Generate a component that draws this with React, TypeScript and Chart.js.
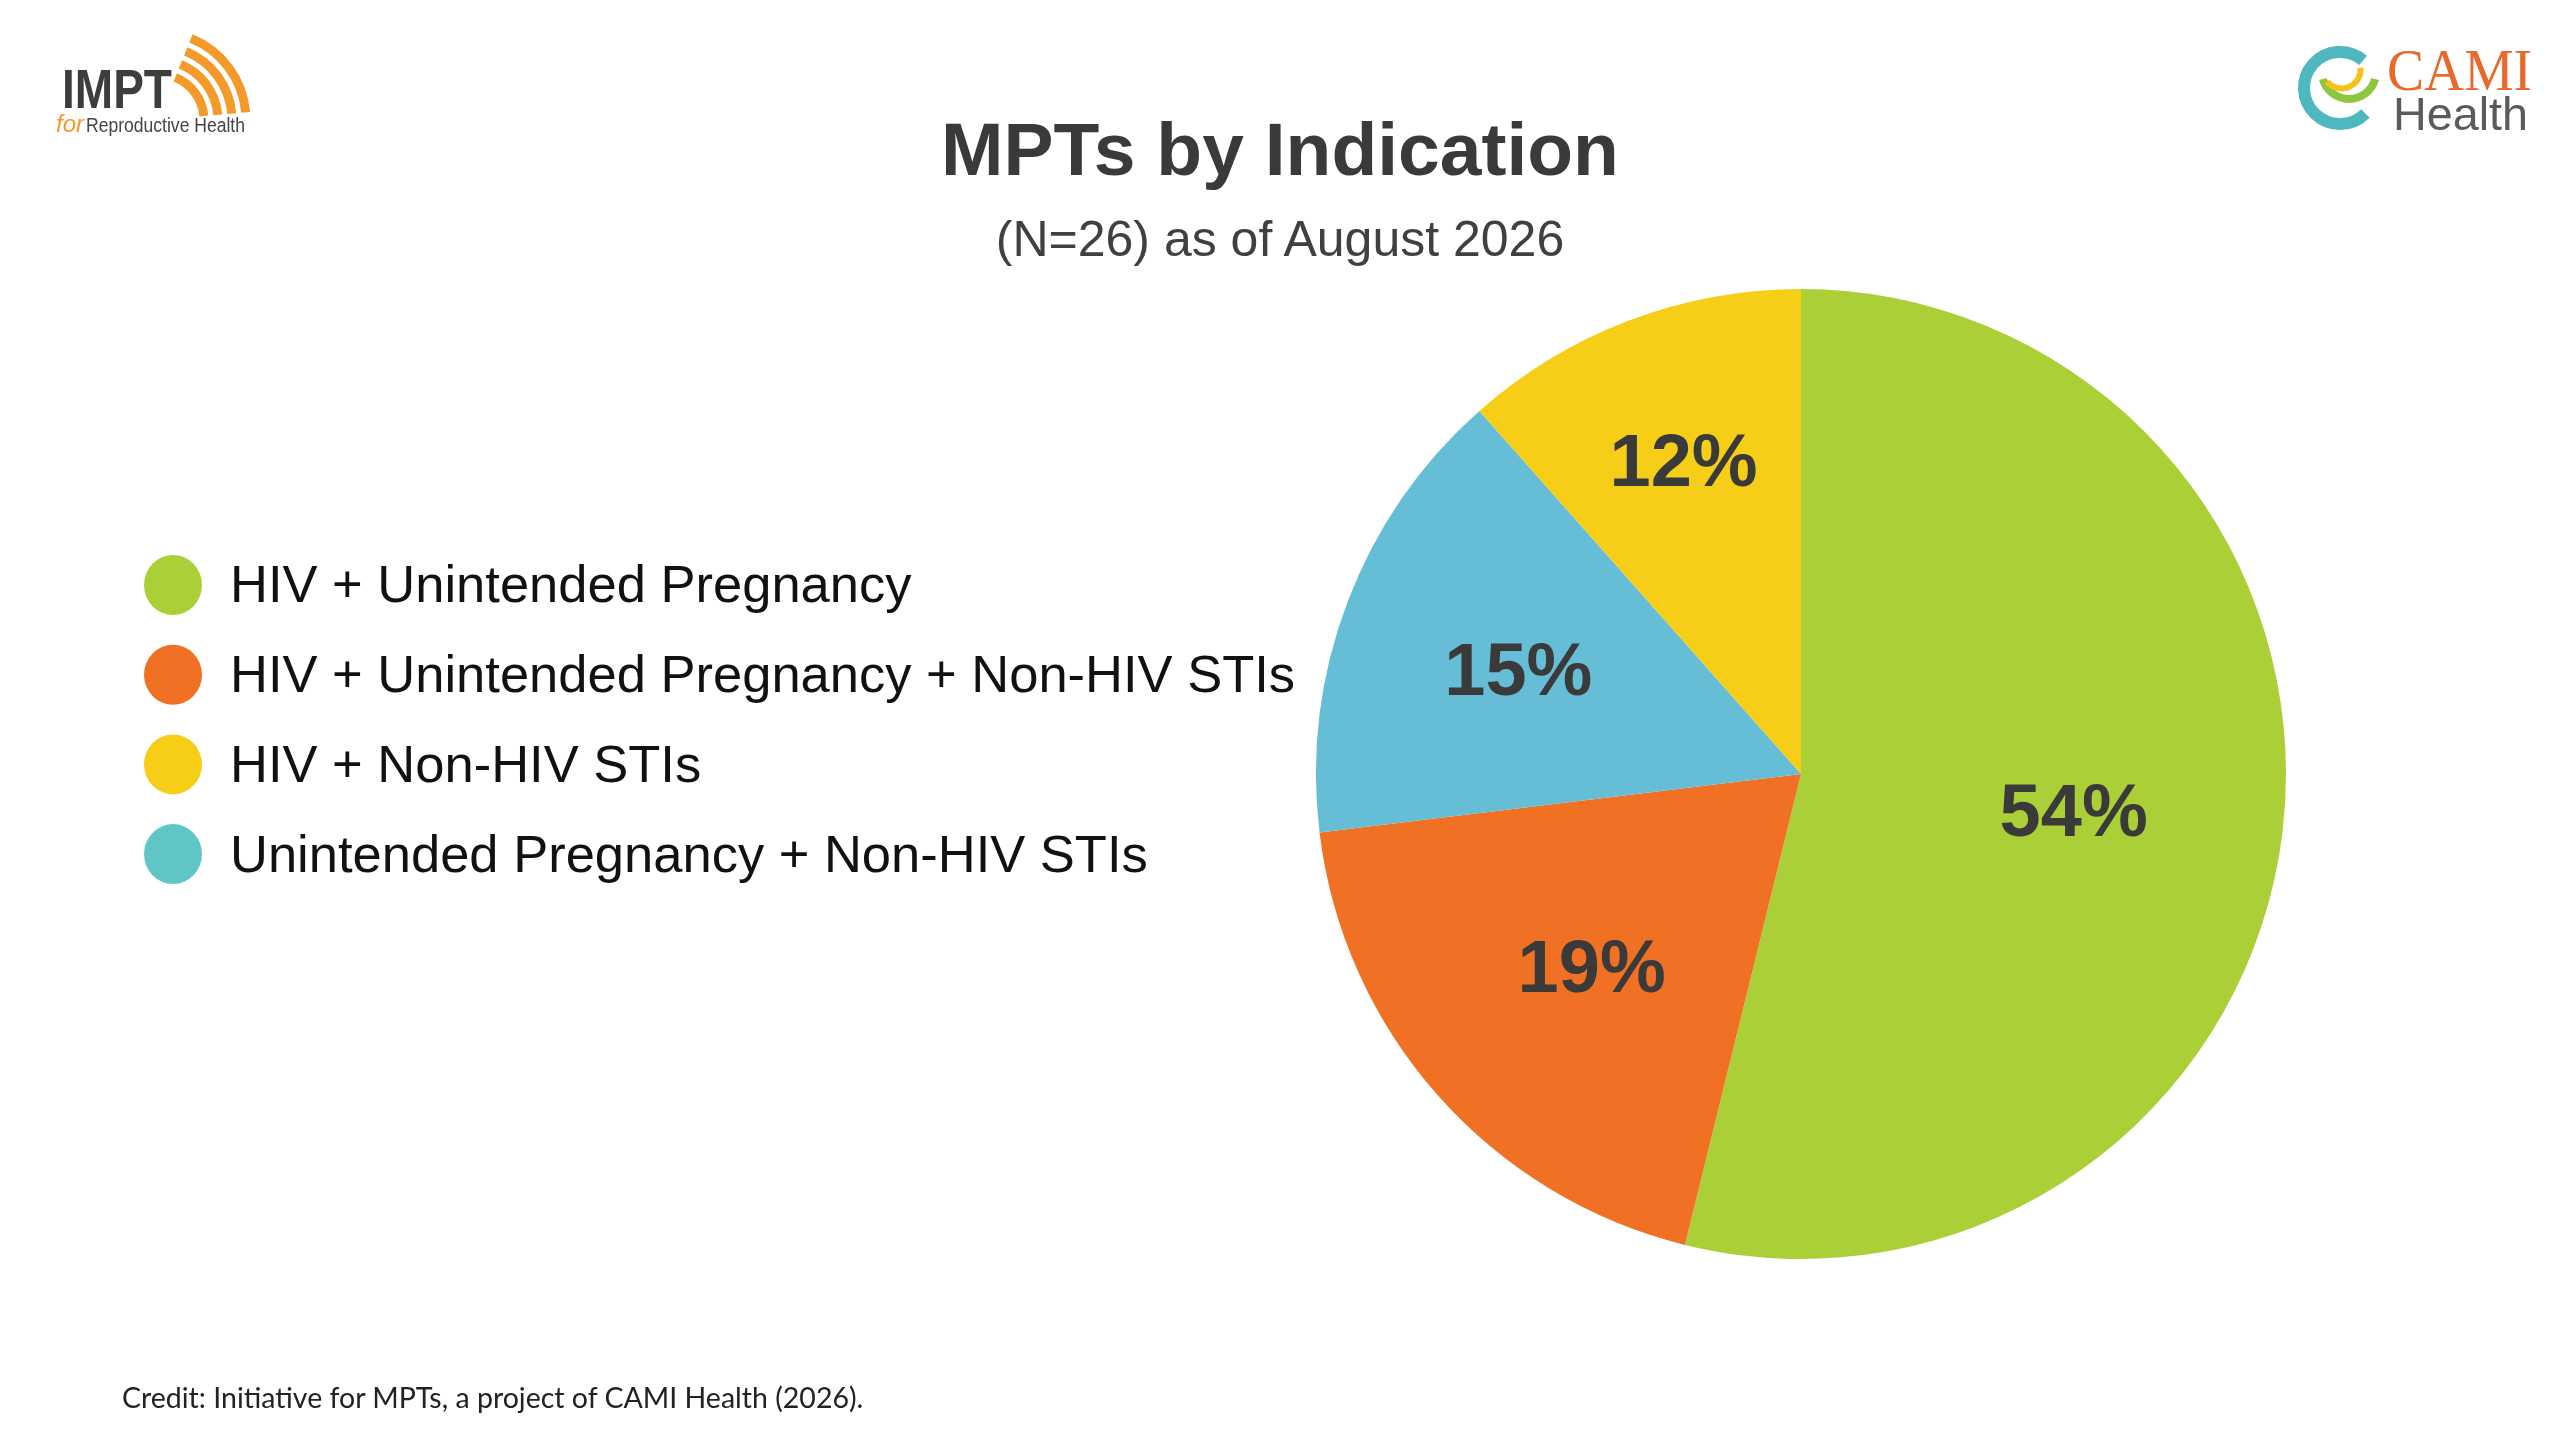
import { useEffect, useRef } from "react";
import { Chart, registerables } from "chart.js";
Chart.register(...registerables);

// data (N=26)
const categories = [
  "HIV + Unintended Pregnancy",
  "HIV + Unintended Pregnancy + Non-HIV STIs",
  "Unintended Pregnancy + Non-HIV STIs",
  "HIV + Non-HIV STIs",
];
const counts = [14, 5, 4, 3];
const sliceColors = ["#abd037", "#f07124", "#66bdd6", "#f7ce17"];
// legend lists yellow before teal, and uses a greener teal swatch
const legendOrder = [0, 1, 3, 2];
const legendColors = ["#abd037", "#f07124", "#60c6c5", "#f7ce17"];
const labelRadius = [0.56, 0.585, 0.63, 0.7];

const FONT = "'Liberation Sans', Arial, sans-serif";

const pctLabels = {
  id: "pctLabels",
  afterDatasetsDraw(chart: any) {
    const ctx = chart.ctx;
    const values = chart.data.datasets[0].data as number[];
    const total = values.reduce((a, b) => a + b, 0);
    const meta = chart.getDatasetMeta(0);
    ctx.save();
    ctx.font = `bold 74px ${FONT}`;
    ctx.fillStyle = "#3a3a3a";
    ctx.textAlign = "center";
    ctx.textBaseline = "middle";
    meta.data.forEach((arc: any, i: number) => {
      const p = arc.getProps(["x", "y", "startAngle", "endAngle", "outerRadius"], true);
      const mid = (p.startAngle + p.endAngle) / 2;
      const r = p.outerRadius * labelRadius[i];
      ctx.fillText(Math.round((values[i] / total) * 100) + "%", p.x + Math.cos(mid) * r + 3, p.y + Math.sin(mid) * r + 9);
    });
    ctx.restore();
  },
};

const sideLegend = {
  id: "sideLegend",
  afterDraw(chart: any) {
    const ctx = chart.ctx;
    ctx.save();
    ctx.font = `52.5px ${FONT}`;
    ctx.textBaseline = "middle";
    legendOrder.forEach((idx, row) => {
      const cy = 585 + row * 89.7;
      ctx.fillStyle = legendColors[idx];
      ctx.beginPath();
      ctx.ellipse(173, cy, 29, 30, 0, 0, Math.PI * 2);
      ctx.fill();
      ctx.fillStyle = "#111";
      ctx.fillText(chart.data.labels[idx], 230, cy + 3);
    });
    ctx.restore();
  },
};

function PieChart() {
  const ref = useRef<HTMLCanvasElement>(null);
  const inst = useRef<Chart | null>(null);
  useEffect(() => {
    if (!ref.current) return;
    inst.current = new Chart(ref.current, {
      type: "pie",
      data: {
        labels: categories,
        datasets: [{ data: counts, backgroundColor: sliceColors, borderWidth: 0 }],
      },
      options: {
        animation: false,
        responsive: true,
        maintainAspectRatio: false,
        layout: { padding: { left: 1316, top: 289, right: 274, bottom: 180 } },
        plugins: { legend: { display: false }, tooltip: { enabled: false } },
      },
      plugins: [pctLabels, sideLegend],
    });
    return () => inst.current?.destroy();
  }, []);
  return <canvas ref={ref} />;
}

function arc(cx: number, cy: number, r: number, a0: number, a1: number, sweep: number, large: number) {
  const rad = Math.PI / 180;
  const x0 = cx + r * Math.cos(a0 * rad), y0 = cy + r * Math.sin(a0 * rad);
  const x1 = cx + r * Math.cos(a1 * rad), y1 = cy + r * Math.sin(a1 * rad);
  return `M ${x0} ${y0} A ${r} ${r} 0 ${large} ${sweep} ${x1} ${y1}`;
}

function Logos() {
  return (
    <svg width={2560} height={1439} style={{ position: "absolute", left: 0, top: 0, pointerEvents: "none" }}>
      {/* IMPT */}
      <text x={62} y={108} fontFamily={FONT} fontWeight="bold" fontSize={56} fill="#3d3d3d" textLength={110} lengthAdjust="spacingAndGlyphs">IMPT</text>
      {[88, 74, 60, 46].map((r) => (
        <path key={r} d={arc(158, 120, r, -68, -5, 1, 0)} stroke="#f39a2b" strokeWidth={9} fill="none" />
      ))}
      <text x={56} y={132} fontFamily={FONT} fontStyle="italic" fontSize={24} fill="#f39a2b">for</text>
      <text x={86} y={132} fontFamily={FONT} fontSize={20} fill="#444" textLength={159} lengthAdjust="spacingAndGlyphs">Reproductive Health</text>
      {/* CAMI Health */}
      <path d={arc(2340, 88, 36, -50, 45, 0, 1)} stroke="#4fb8bf" strokeWidth={12} fill="none" />
      <path d={arc(2349, 86, 27, 195, -15, 0, 0)} stroke="#8dc63f" strokeWidth={8} fill="none" />
      <path d={arc(2346, 80, 19, 175, -40, 0, 0)} stroke="#f5c21a" strokeWidth={6} fill="none" />
      <text x={2387} y={90} fontFamily="'Liberation Serif', serif" fontSize={60} fill="#e8692c" textLength={145} lengthAdjust="spacingAndGlyphs">CAMI</text>
      <text x={2393} y={130} fontFamily={FONT} fontSize={47} fill="#5b5b5b" textLength={135} lengthAdjust="spacingAndGlyphs">Health</text>
    </svg>
  );
}

export default function App() {
  useEffect(() => {
    document.body.style.margin = "0";
    document.body.style.overflow = "hidden";
  }, []);
  return (
    <div style={{ position: "absolute", left: 0, top: 0, width: 2560, height: 1439, background: "#fff", overflow: "hidden" }}>
      <div style={{ position: "absolute", left: 0, top: 0, width: 2560, height: 1439 }}>
        <PieChart />
      </div>
      <div style={{ position: "absolute", left: 0, width: 2560, top: 112, textAlign: "center", font: `bold 75px ${FONT}`, lineHeight: "75px", color: "#3a3a3a" }}>
        MPTs by Indication
      </div>
      <div style={{ position: "absolute", left: 0, width: 2560, top: 214, textAlign: "center", font: `50px ${FONT}`, lineHeight: "50px", color: "#404040" }}>
        (N=26) as of August 2026
      </div>
      <div style={{ position: "absolute", left: 122, top: 1381, font: "28.5px Lato, 'Open Sans', sans-serif", lineHeight: "32px", color: "#222" }}>
        Credit: Initiative for MPTs, a project of CAMI Health (2026).
      </div>
      <Logos />
    </div>
  );
}
